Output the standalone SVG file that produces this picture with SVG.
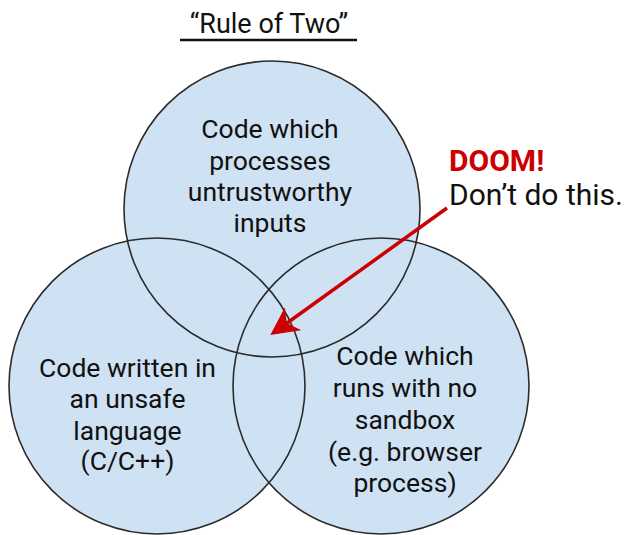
<svg xmlns="http://www.w3.org/2000/svg" width="626" height="535" viewBox="0 0 626 535">
<style>
.fill{fill:#cfe2f3;stroke:none}
.outline{fill:none;stroke:#2b2b2b;stroke-width:1.6}
text{font-family:Roboto,"Liberation Sans",sans-serif;font-size:26.5px;fill:#111;text-anchor:middle}
.title{font-size:27px}
.doom{fill:#cc0000;font-weight:bold;text-anchor:start;font-size:30px}
.note{text-anchor:start;font-size:30px}
</style>
<defs>
<marker id="ah" markerWidth="8" markerHeight="8" refX="6" refY="4" orient="auto" markerUnits="strokeWidth">
<path d="M0,0 L8,4 L0,8 L2.2,4 Z" fill="#cc0000"/>
</marker>
</defs>
<g id="title">
<text class="title" x="269" y="33">“Rule of Two”</text>
<line x1="180" y1="40" x2="357" y2="40" stroke="#111" stroke-width="2.5"/>
</g>
<g id="node-top"><circle class="fill" cx="272" cy="209" r="148"/></g>
<g id="node-left"><circle class="fill" cx="157" cy="386" r="148"/></g>
<g id="node-right"><circle class="fill" cx="381" cy="386" r="148"/></g>
<g id="outlines">
<circle class="outline" cx="272" cy="209" r="148"/>
<circle class="outline" cx="157" cy="386" r="148"/>
<circle class="outline" cx="381" cy="386" r="148"/>
</g>
<g id="label-top">
<text x="270" y="138">Code which</text>
<text x="270" y="170">processes</text>
<text x="270" y="201">untrustworthy</text>
<text x="270" y="232">inputs</text>
</g>
<g id="label-left">
<text x="127.5" y="377">Code written in</text>
<text x="127.5" y="408">an unsafe</text>
<text x="127.5" y="440">language</text>
<text x="127.5" y="470">(C/C++)</text>
</g>
<g id="label-right">
<text x="405" y="365">Code which</text>
<text x="405" y="397">runs with no</text>
<text x="405" y="429">sandbox</text>
<text x="405" y="461">(e.g. browser</text>
<text x="405" y="492">process)</text>
</g>
<g id="node-doom">
<text class="doom" x="449" y="171">DOOM!</text>
<text class="note" x="449" y="205">Don’t do this.</text>
</g>
<g id="connectors">
<line x1="447" y1="208" x2="276" y2="331" stroke="#cc0000" stroke-width="3.5" marker-end="url(#ah)"/>
</g>
</svg>
